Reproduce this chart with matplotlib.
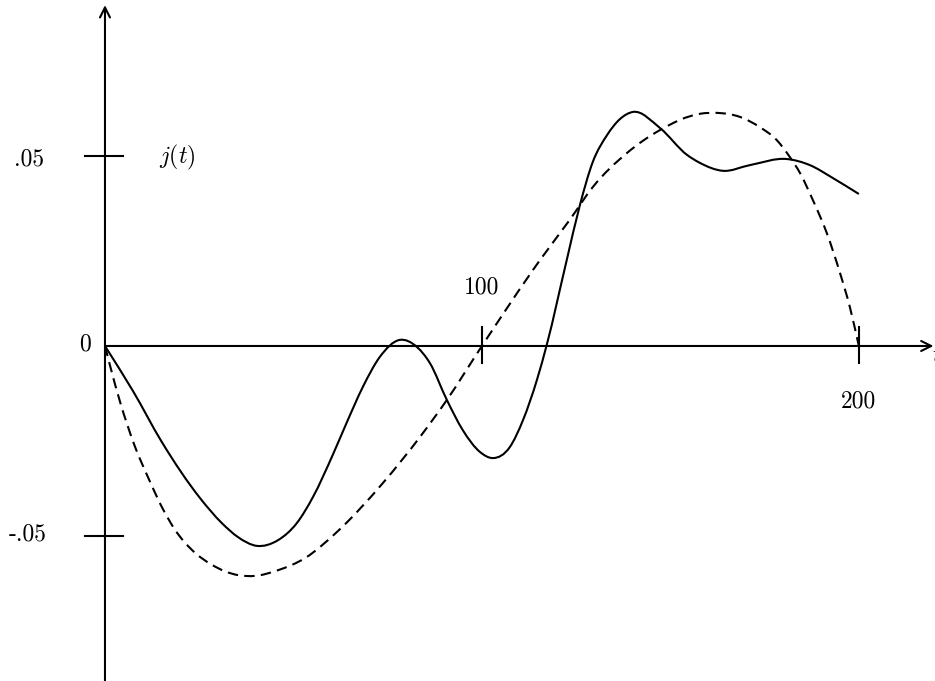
import matplotlib
matplotlib.use("Agg")
import matplotlib.pyplot as plt
from matplotlib.path import Path
from matplotlib.patches import PathPatch

plt.rcParams['mathtext.fontset'] = 'cm'

# solid curve j(t)
t_solid = [0, 7.4, 15.1, 25.2, 31.0, 35.3, 40.3, 45.9, 50.9,
           55.2, 60.5, 64.2, 68.4, 72.9, 78.2, 82.8, 86.2, 90.7, 94.9,
           99.5, 102.9, 107.4, 110.9, 114.6, 117.2, 122.5, 126.0, 129.4, 133.2,
           136.6, 140.1, 147.2, 154.4, 157.8, 163.9, 171.1, 180.9, 187.0, 193.1, 200]
j_solid = [0, -0.0118, -0.0253, -0.0400, -0.0466, -0.0503, -0.0526, -0.0511, -0.0466,
           -0.0397, -0.0285, -0.0200, -0.0108, -0.0029, 0.0016, -0.0003, -0.0045, -0.0142, -0.0221,
           -0.0279, -0.0295, -0.0266, -0.0195, -0.0089, 0.0003, 0.0226, 0.0371, 0.0484, 0.0555,
           0.0597, 0.0616, 0.0574, 0.0503, 0.0482, 0.0461, 0.0476, 0.0492, 0.0476, 0.0442, 0.0400]

# dashed curve
t_dash = [0, 1.3, 4.0, 8.0, 11.4, 15.1, 18.6, 23.1, 28.4, 35.3,
          39.8, 45.9, 53.1, 61.8, 73.7, 83.6, 90.7, 100, 115.4, 123.3,
          129.4, 138.5, 147.2, 157.8, 163.1, 168.4, 173.7, 178.2, 181.7, 184.4,
          187.8, 191.5, 195.0, 197.6, 200]
j_dash = [0, -0.0050, -0.0147, -0.0266, -0.0345, -0.0424, -0.0484, -0.0537, -0.0576, -0.0603,
          -0.0605, -0.0590, -0.0558, -0.0487, -0.0361, -0.0239, -0.0142, 0, 0.0226, 0.0332,
          0.0418, 0.0508, 0.0568, 0.0611, 0.0613, 0.0603, 0.0576, 0.0542, 0.0497, 0.0455,
          0.0384, 0.0297, 0.0192, 0.0103, 0]

xticks = [100, 200]
xtick_labels = ['100', '200']
yticks = [0.05, -0.05]
ytick_labels = ['.05', '-.05']


def smooth_path(xs, ys):
    # cubic hermite through the points (slopes from neighbours), as bezier segments
    n = len(xs)
    d = []
    for i in range(n):
        if i == 0:
            d.append((ys[1] - ys[0]) / (xs[1] - xs[0]))
        elif i == n - 1:
            d.append((ys[-1] - ys[-2]) / (xs[-1] - xs[-2]))
        else:
            h0 = xs[i] - xs[i - 1]
            h1 = xs[i + 1] - xs[i]
            s0 = (ys[i] - ys[i - 1]) / h0
            s1 = (ys[i + 1] - ys[i]) / h1
            d.append((s0 * h1 + s1 * h0) / (h0 + h1))
    verts = [(xs[0], ys[0])]
    codes = [Path.MOVETO]
    for i in range(n - 1):
        h = xs[i + 1] - xs[i]
        verts += [(xs[i] + h / 3, ys[i] + d[i] * h / 3),
                  (xs[i + 1] - h / 3, ys[i + 1] - d[i + 1] * h / 3),
                  (xs[i + 1], ys[i + 1])]
        codes += [Path.CURVE4] * 3
    return Path(verts, codes)


fig = plt.figure(figsize=(9.35, 6.81), dpi=100)
ax = fig.add_axes([0, 0, 1, 1])
ax.set_xlim(-27.85, 220.2)
ax.set_ylim(-0.08816, 0.09105)
ax.axis('off')

lw = 1.5
# axes with arrows
ax.annotate('', xy=(219.8, 0), xytext=(0, 0),
            arrowprops=dict(arrowstyle='->', lw=lw, color='black', shrinkA=0, shrinkB=0,
                            mutation_scale=18))
ax.annotate('', xy=(0, 0.0897), xytext=(0, -0.0885),
            arrowprops=dict(arrowstyle='->', lw=lw, color='black', shrinkA=0, shrinkB=0,
                            mutation_scale=18))

# ticks
for v in yticks:
    ax.plot([-5.3, 4.8], [v, v], color='black', lw=lw)
for v in xticks:
    ax.plot([v, v], [-0.0045, 0.005], color='black', lw=lw)

# curves
ax.add_patch(PathPatch(smooth_path(t_solid, j_solid), fill=False, ec='black', lw=lw,
                       joinstyle='round'))
ax.add_patch(PathPatch(smooth_path(t_dash, j_dash), fill=False, ec='black', lw=lw,
                       linestyle=(0, (5, 3))))

fs = 17
font = 'cmr10'
ax.text(-20.2, 0.0492, ytick_labels[0], fontsize=fs, family=font, ha='center', va='center')
ax.text(-20.6, -0.0497, ytick_labels[1], fontsize=fs, family=font, ha='center', va='center')
ax.text(-5.3, 0.0003, '0', fontsize=fs, family=font, ha='center', va='center')
ax.text(100, 0.0155, xtick_labels[0], fontsize=fs, family=font, ha='center', va='center')
ax.text(200, -0.0147, xtick_labels[1], fontsize=fs, family=font, ha='center', va='center')
ax.text(19.3, 0.0495, r'$j(t)$', fontsize=fs, ha='center', va='center')
ax.text(219.5, -0.0025, r'$t$', fontsize=fs, ha='left', va='center')

fig.savefig('out.png', dpi=100)
